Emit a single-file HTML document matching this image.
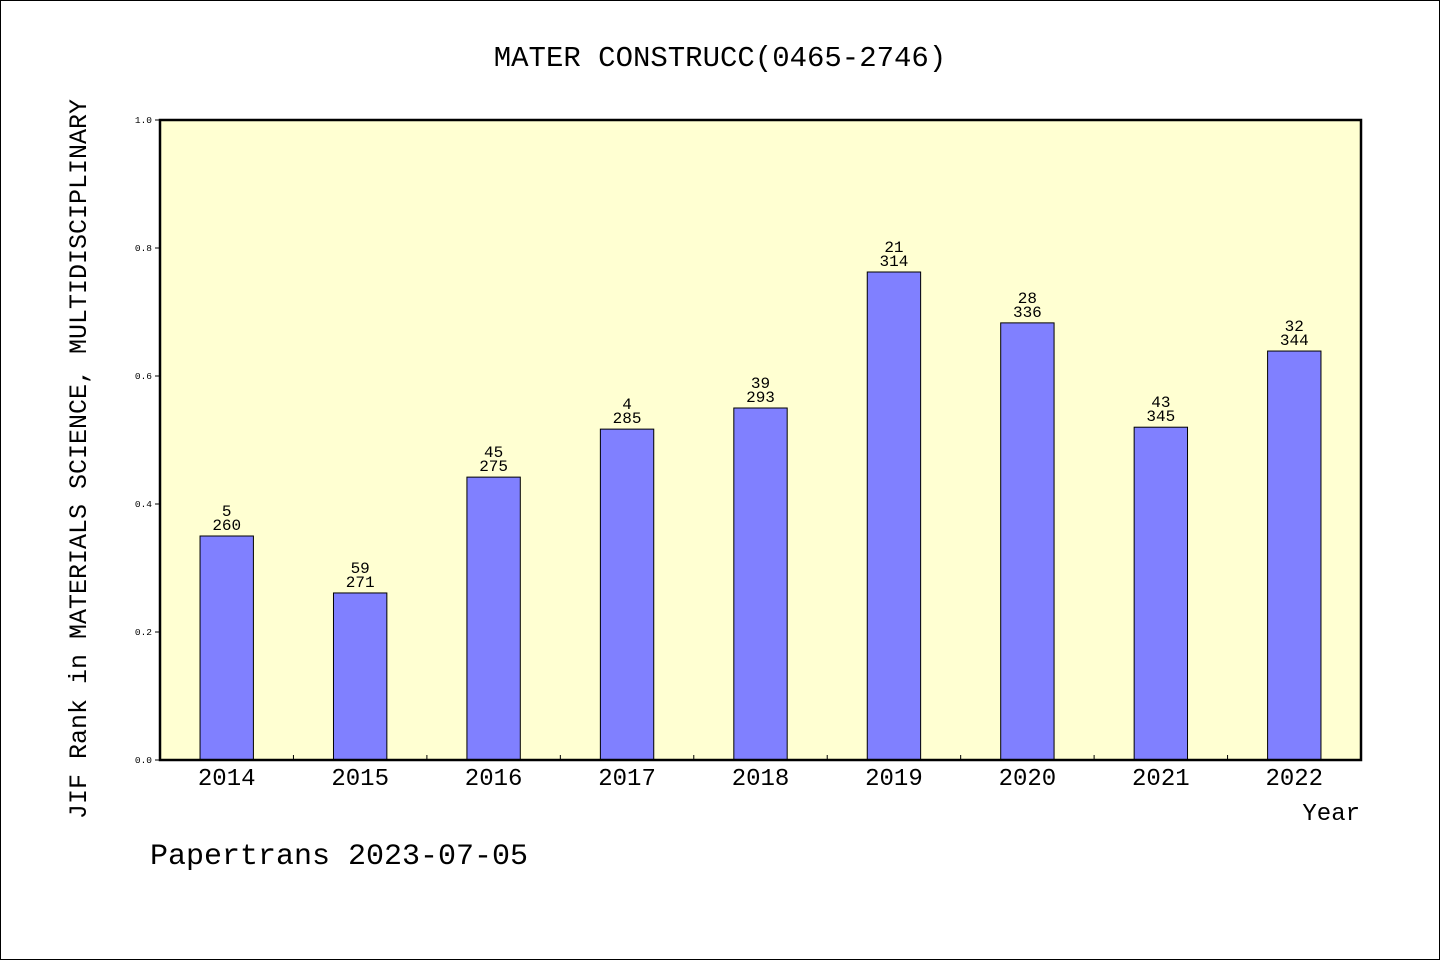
<!DOCTYPE html>
<html><head><meta charset="utf-8"><style>
html,body{margin:0;padding:0;background:#fff}
#wrap{width:1440px;height:960px;position:relative;box-sizing:border-box;border:1px solid #000;overflow:hidden}
svg text{font-family:"Liberation Mono","WenQuanYi Zen Hei",monospace;fill:#000}
</style></head><body>
<div id="wrap">
<svg id="chart" width="1440" height="960" style="position:absolute;left:-1px;top:-1px">
<text x="720" y="66" text-anchor="middle" font-size="29">MATER CONSTRUCC(0465-2746)</text>
<rect x="160" y="120" width="1201" height="640" fill="#ffffd2"/>
<g id="bars"></g>
<rect x="160" y="120" width="1201" height="640" fill="none" stroke="#000" stroke-width="2.5"/>
<g id="axes"></g>
<text x="1360" y="820" text-anchor="end" font-size="24">Year</text>
<text transform="translate(86,459) rotate(-90)" text-anchor="middle" font-size="25">JIF Rank in MATERIALS SCIENCE, MULTIDISCIPLINARY</text>
<text x="150" y="864" font-size="30">Papertrans 2023-07-05</text>
</svg>
</div>
<script>
const categories=["2014","2015","2016","2017","2018","2019","2020","2021","2022"];
const values=[0.35,0.261,0.442,0.517,0.55,0.7625,0.683,0.52,0.639];
const ranks=["5","59","45","4","39","21","28","43","32"];
const totals=["260","271","275","285","293","314","336","345","344"];
const yTicks=[0,0.2,0.4,0.6,0.8,1.0];
const yTickLabels=["0.0","0.2","0.4","0.6","0.8","1.0"];
const NS="http://www.w3.org/2000/svg";
const X0=160,W=1201,Y0=760,H=640;
const slot=W/categories.length;
const xC=i=>X0+slot*(i+0.5);
const yS=v=>Y0-v*H;
function mk(tag,attrs,parent,txt){const e=document.createElementNS(NS,tag);for(const k in attrs)e.setAttribute(k,attrs[k]);if(txt!==undefined)e.textContent=txt;parent.appendChild(e);return e;}
const bars=document.getElementById('bars'),axes=document.getElementById('axes');
categories.forEach((c,i)=>{
 const bw=slot*0.4;
 const r=mk('rect',{x:xC(i)-bw/2,y:yS(values[i]),width:bw,height:values[i]*H,fill:'#8080ff',stroke:'#000','stroke-width':1},bars);
 
 
 const t1=mk('text',{x:xC(i),y:yS(values[i])-20,'text-anchor':'middle','font-size':16},bars,ranks[i]);
 
 
 const t2=mk('text',{x:xC(i),y:yS(values[i])-6,'text-anchor':'middle','font-size':16},bars,totals[i]);
 
 
 const xl=mk('text',{x:xC(i),y:785,'text-anchor':'middle','font-size':24},axes,c);
 
 
 if(i>0){const tk=mk('line',{x1:X0+slot*i,x2:X0+slot*i,y1:Y0,y2:Y0-5,stroke:'#000'},axes);
 
 }
});
yTicks.forEach((v,i)=>{
 const tk=mk('line',{x1:X0-5,x2:X0,y1:yS(v),y2:yS(v),stroke:'#000'},axes);
 
 
 const tl=mk('text',{x:X0-8,y:yS(v)+3,'text-anchor':'end','font-size':9.5},axes,yTickLabels[i]);
 
 
});
</script>
</body></html>
